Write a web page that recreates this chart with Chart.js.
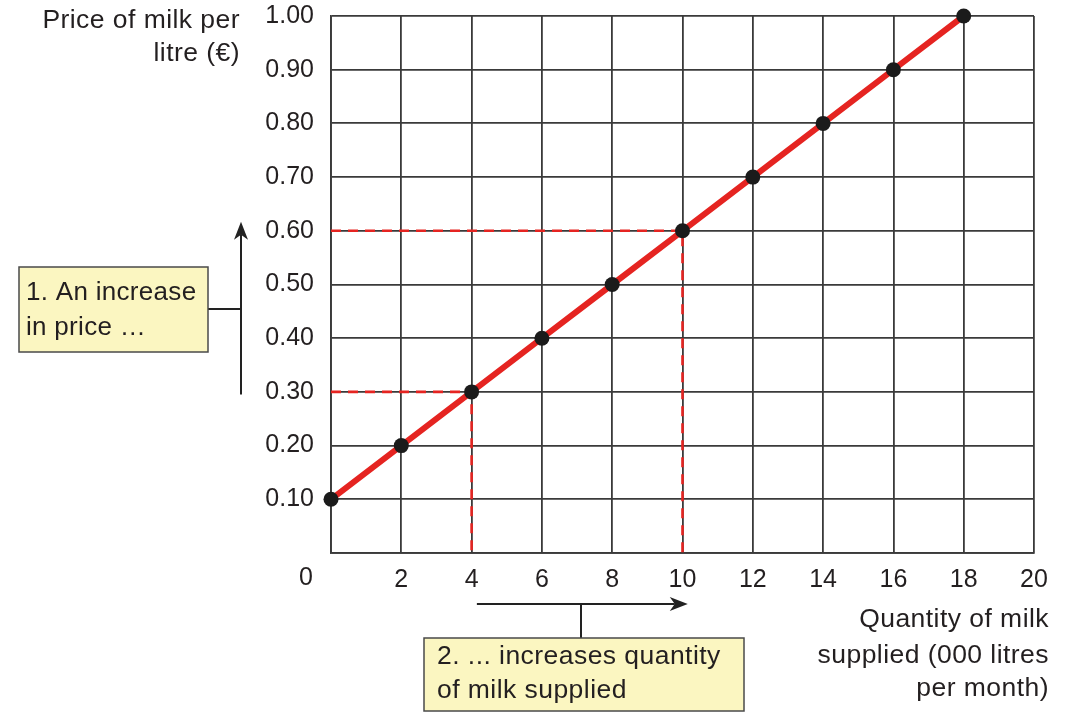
<!DOCTYPE html>
<html>
<head>
<meta charset="utf-8">
<script src="https://cdn.jsdelivr.net/npm/chart.js@4/dist/chart.umd.min.js"></script>
<style>
  html, body { margin: 0; padding: 0; background: #ffffff; }
  #wrap { width: 1071px; height: 714px; }
</style>
</head>
<body>
<div id="wrap"><canvas id="supply" width="1071" height="714"></canvas></div>
<script>
// Supply schedule for milk
const quantities = [0, 2, 4, 6, 8, 10, 12, 14, 16, 18];
const prices = [0.10, 0.20, 0.30, 0.40, 0.50, 0.60, 0.70, 0.80, 0.90, 1.00];

// Axis ticks
const xTicks = [0, 2, 4, 6, 8, 10, 12, 14, 16, 18, 20];
const yTicks = [0, 0.10, 0.20, 0.30, 0.40, 0.50, 0.60, 0.70, 0.80, 0.90, 1.00];

// The price rise and the quantity response it triggers
const movePrices = [0.30, 0.60];
const moveQuantities = [4, 10];

const FONT = '"Liberation Sans", Arial, Helvetica, sans-serif';
const INK = '#231f20';
const GRID = '#3a3a3a';
const RED = '#e52421';

const supplyPoints = quantities.map((q, i) => ({ x: q, y: prices[i] }));
const guideSets = movePrices.map((p, i) => ({
  data: [{ x: 0, y: p }, { x: moveQuantities[i], y: p }, { x: moveQuantities[i], y: 0 }],
  borderColor: RED,
  borderWidth: 2.6,
  borderDash: [10, 7],
  pointRadius: 0,
  fill: false,
  order: 1,
  clip: false
}));

function arrow(ctx, x1, y1, x2, y2) {
  const ang = Math.atan2(y2 - y1, x2 - x1);
  const c = Math.cos(ang), s = Math.sin(ang);
  const len = 18, half = 7, notch = 5;
  ctx.beginPath();
  ctx.moveTo(x1, y1);
  ctx.lineTo(x2 - c * (len - notch), y2 - s * (len - notch));
  ctx.stroke();
  ctx.beginPath();
  ctx.moveTo(x2, y2);
  ctx.lineTo(x2 - c * len - s * half, y2 - s * len + c * half);
  ctx.lineTo(x2 - c * (len - notch), y2 - s * (len - notch));
  ctx.lineTo(x2 - c * len + s * half, y2 - s * len - c * half);
  ctx.closePath();
  ctx.fill();
}

function noteBox(ctx, x, y, w, h, lines, tx, ty, lh) {
  ctx.fillStyle = '#fbf6c1';
  ctx.fillRect(x, y, w, h);
  ctx.strokeStyle = '#4a4a4a';
  ctx.lineWidth = 1.5;
  ctx.strokeRect(x, y, w, h);
  ctx.fillStyle = INK;
  ctx.textAlign = 'left';
  ctx.textBaseline = 'middle';
  lines.forEach((t, i) => ctx.fillText(t, tx, ty + i * lh));
}

const annotations = {
  id: 'annotations',
  afterDraw(chart) {
    const ctx = chart.ctx;
    const xs = chart.scales.x, ys = chart.scales.y;
    ctx.save();
    ctx.font = '26.5px ' + FONT;
    ctx.letterSpacing = '0.45px';
    ctx.fillStyle = INK;

    // Axis titles
    ctx.textAlign = 'right';
    ctx.textBaseline = 'middle';
    ctx.fillText('Price of milk per', 240, 21);
    ctx.fillText('litre (€)', 240, 54);
    ctx.fillText('Quantity of milk', 1049, 620);
    ctx.fillText('supplied (000 litres', 1049, 656);
    ctx.fillText('per month)', 1049, 689);

    // Shared origin label
    ctx.letterSpacing = '0px';
    ctx.font = '25px ' + FONT;
    ctx.textAlign = 'center';
    ctx.fillText('0', xs.getPixelForValue(0) - 25, 578);

    // Price-rise arrow with its note
    ctx.font = '26px ' + FONT;
    ctx.letterSpacing = '0.3px';
    ctx.strokeStyle = '#222';
    ctx.fillStyle = '#222';
    ctx.lineWidth = 2;
    const ax = 241;
    arrow(ctx, ax, ys.getPixelForValue(0.295), ax, ys.getPixelForValue(0.617));
    ctx.beginPath();
    ctx.moveTo(208, 309);
    ctx.lineTo(ax, 309);
    ctx.stroke();
    noteBox(ctx, 19, 267, 189, 85, ['1. An increase', 'in price \u2026'], 26, 293, 35);

    // Quantity arrow with its note
    ctx.font = '26.5px ' + FONT;
    ctx.letterSpacing = '0.45px';
    ctx.strokeStyle = '#222';
    ctx.fillStyle = '#222';
    ctx.lineWidth = 2;
    const ay = 604;
    arrow(ctx, xs.getPixelForValue(4.15), ay, xs.getPixelForValue(10.15), ay);
    ctx.beginPath();
    ctx.moveTo(581, ay);
    ctx.lineTo(581, 638);
    ctx.stroke();
    noteBox(ctx, 424, 638, 320, 73, ['2. ... increases quantity', 'of milk supplied'], 437, 657, 34);

    ctx.restore();
  }
};

new Chart(document.getElementById('supply'), {
  type: 'line',
  data: {
    datasets: [
      {
        data: supplyPoints,
        borderColor: RED,
        borderWidth: 6,
        pointRadius: 7.5,
        pointHoverRadius: 7.5,
        pointBackgroundColor: '#1b1b1b',
        pointBorderWidth: 0,
        fill: false,
        order: 0,
        clip: false
      },
      ...guideSets
    ]
  },
  options: {
    responsive: false,
    devicePixelRatio: 1,
    animation: false,
    events: [],
    layout: { autoPadding: false, padding: { left: 0, top: 16, right: 37, bottom: 0 } },
    plugins: { legend: { display: false }, tooltip: { enabled: false } },
    scales: {
      x: {
        type: 'linear',
        min: 0,
        max: 20,
        afterBuildTicks: s => { s.ticks = xTicks.map(v => ({ value: v })); },
        afterFit: s => { s.height = 161; },
        grid: { color: GRID, lineWidth: 1.8, drawTicks: false },
        border: { color: GRID, width: 1.8 },
        ticks: {
          padding: 12,
          color: INK,
          font: { family: FONT, size: 25 },
          maxRotation: 0,
          autoSkip: false,
          callback: v => (v === 0 ? '' : String(v))
        }
      },
      y: {
        type: 'linear',
        min: 0,
        max: 1,
        afterBuildTicks: s => { s.ticks = yTicks.map(v => ({ value: v })); },
        afterFit: s => { s.width = 331; s.paddingTop = 0; },
        grid: { color: GRID, lineWidth: 1.8, drawTicks: false },
        border: { color: GRID, width: 1.8 },
        ticks: {
          padding: 17,
          color: INK,
          font: { family: FONT, size: 25 },
          autoSkip: false,
          callback: v => (v === 0 ? '' : v.toFixed(2))
        }
      }
    }
  },
  plugins: [annotations]
});
</script>
</body>
</html>
